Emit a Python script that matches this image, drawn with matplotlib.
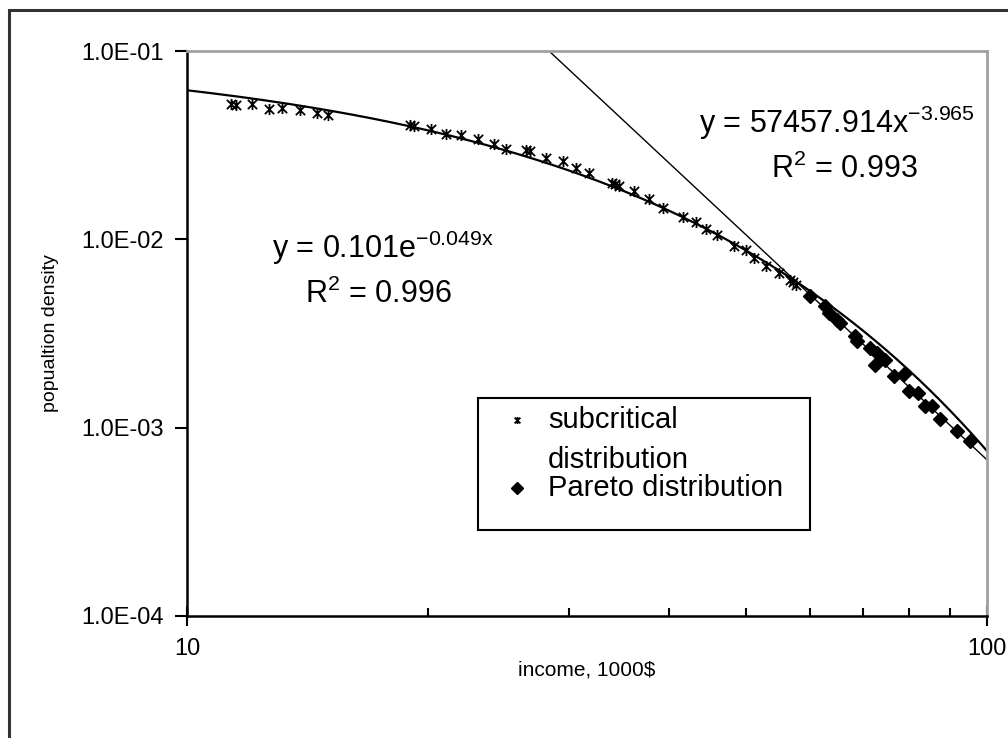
import numpy as np
import matplotlib.pyplot as plt
from matplotlib.path import Path
from matplotlib.patches import Rectangle

plt.rcParams['font.family'] = ['Liberation Sans', 'DejaVu Sans']
plt.rcParams['mathtext.fontset'] = 'custom'
plt.rcParams['mathtext.rm'] = 'Liberation Sans'
plt.rcParams['mathtext.it'] = 'Liberation Sans'
plt.rcParams['mathtext.default'] = 'regular'

# income (1000$) and population density, subcritical range
sub_income = [11.35, 11.5, 12.05, 12.68, 13.14, 13.85, 14.53, 15.02,
              19.0, 19.2, 20.17, 21.10, 21.98, 23.14, 24.23, 25.06,
              26.5, 26.8, 28.11, 29.49, 30.64, 31.83, 34.0, 34.3, 34.7,
              36.22, 37.82, 39.41, 41.63, 43.25, 44.50, 46.03, 48.28,
              49.93, 51.13, 52.88, 54.94, 56.8, 57.2, 57.63]
sub_density = [0.0525, 0.0518, 0.0520, 0.0495, 0.0499, 0.0489, 0.0469, 0.0456,
               0.0403, 0.0400, 0.0383, 0.0364, 0.0360, 0.0339, 0.0319, 0.0302,
               0.0298, 0.0296, 0.0271, 0.0260, 0.0240, 0.0225, 0.0199, 0.0196, 0.0191,
               0.0180, 0.0163, 0.0147, 0.0132, 0.0123, 0.0113, 0.0106, 0.00926,
               0.00874, 0.00796, 0.00725, 0.00663, 0.00605, 0.00592, 0.00574]

# Pareto tail
par_income = [60.16, 62.81, 63.41, 64.96, 65.58, 68.46, 68.79, 71.47, 72.87,
              72.50, 74.62, 76.42, 78.64, 79.79, 82.10, 83.70, 85.32, 87.39,
              91.67, 95.23]
par_density = [0.00502, 0.00441, 0.00406, 0.00374, 0.00360, 0.00305, 0.00287,
               0.00265, 0.00249, 0.00216, 0.00230, 0.00187, 0.00193, 0.00156,
               0.00153, 0.00130, 0.00130, 0.00111, 0.000955, 0.000845]

# trendline coefficients
exp_a, exp_b = 0.101, -0.049
pow_a, pow_b = 57457.914, -3.965

# Excel-style star marker: an x crossed by a vertical stroke
star = Path([(-1, -1), (1, 1), (-1, 1), (1, -1), (0, -1.2), (0, 1.2)],
            [Path.MOVETO, Path.LINETO, Path.MOVETO, Path.LINETO,
             Path.MOVETO, Path.LINETO])

fig = plt.figure(figsize=(10.08, 7.38), dpi=100)
ax = fig.add_axes([187 / 1008, 1 - 616 / 738, 800 / 1008, 565 / 738])

xs = np.linspace(10, 100, 400)
ax.plot(xs, exp_a * np.exp(exp_b * xs), color='black', lw=1.6)
ax.plot(xs, pow_a * xs ** pow_b, color='black', lw=1.0)

ax.plot(sub_income, sub_density, linestyle='none', marker=star, ms=8,
        mfc='none', mec='black', mew=1.3)
ax.plot(par_income, par_density, linestyle='none', marker='D', ms=7,
        color='black')

ax.set_xscale('log')
ax.set_yscale('log')
ax.set_xlim(10, 100)
ax.set_ylim(1e-4, 1e-1)

ax.set_xticks([10, 100])
ax.set_xticklabels(['10', '100'])
ax.set_xticks([20, 30, 40, 50, 60, 70, 80, 90], minor=True)
ax.xaxis.set_minor_formatter(plt.NullFormatter())
ax.set_yticks([1e-4, 1e-3, 1e-2, 1e-1])
ax.set_yticklabels(['1.0E-04', '1.0E-03', '1.0E-02', '1.0E-01'])
ax.yaxis.set_minor_locator(plt.NullLocator())

ax.tick_params(axis='x', which='major', direction='inout', length=14, width=1.5,
               labelsize=17, pad=9)
ax.tick_params(axis='x', which='minor', direction='in', length=6, width=1.5)
ax.tick_params(axis='y', which='major', direction='out', length=9, width=1.5,
               labelsize=17, pad=8)

for side in ['left', 'bottom']:
    ax.spines[side].set_linewidth(1.8)
    ax.spines[side].set_color('black')
for side in ['top', 'right']:
    ax.spines[side].set_linewidth(2)
    ax.spines[side].set_color('#a0a0a0')

ax.set_xlabel('income, 1000$', fontsize=15, labelpad=0)
ax.set_ylabel('popualtion density', fontsize=14, labelpad=16)

ax.text(0.64, 0.855, 'y = 57457.914x$^{-3.965}$', transform=ax.transAxes,
        fontsize=22, va='baseline')
ax.text(0.73, 0.775, 'R$^2$ = 0.993', transform=ax.transAxes,
        fontsize=22, va='baseline')
ax.text(0.106, 0.634, 'y = 0.101e$^{-0.049x}$', transform=ax.transAxes,
        fontsize=22, va='baseline')
ax.text(0.1475, 0.554, 'R$^2$ = 0.996', transform=ax.transAxes,
        fontsize=22, va='baseline')

# legend box
ax.add_patch(Rectangle((0.364, 0.152), 0.415, 0.234, transform=ax.transAxes,
                       fill=False, edgecolor='black', lw=1.5, zorder=5))
ax.plot([0.4125], [0.347], transform=ax.transAxes, marker=star, ms=5,
        mfc='none', mec='black', mew=1.3, clip_on=False)
ax.plot([0.4125], [0.2265], transform=ax.transAxes, marker='D', ms=6.5,
        color='black', clip_on=False)
ax.text(0.451, 0.347, 'subcritical', transform=ax.transAxes, fontsize=21,
        va='center')
ax.text(0.451, 0.276, 'distribution', transform=ax.transAxes, fontsize=21,
        va='center')
ax.text(0.451, 0.2265, 'Pareto distribution', transform=ax.transAxes,
        fontsize=21, va='center')

# chart frame
fig.patches.append(Rectangle((9 / 1008, -0.1), 1.2, 1 - 10 / 738 + 0.1,
                             transform=fig.transFigure, fill=False,
                             edgecolor='#333333', lw=2.2))

fig.savefig('out.png', dpi=100)
